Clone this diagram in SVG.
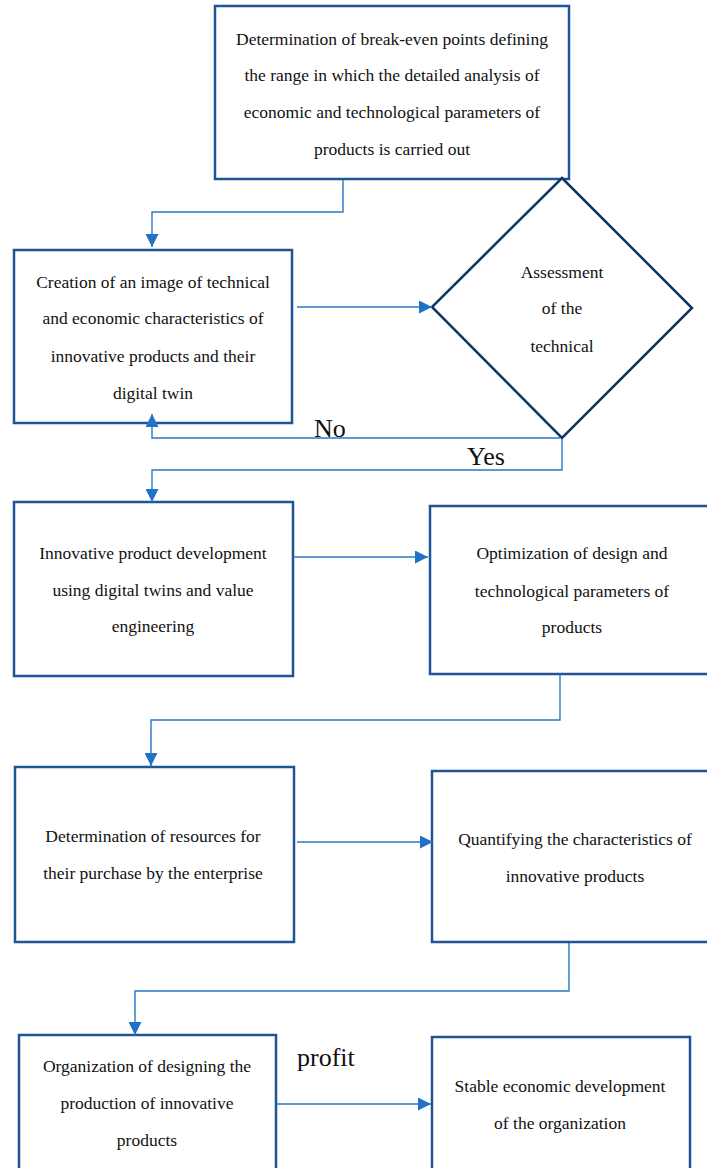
<svg xmlns="http://www.w3.org/2000/svg" width="707" height="1168" viewBox="0 0 707 1168">
<style>
.box{fill:#ffffff;stroke:#1f5497;stroke-width:2.5}
.dia{fill:#ffffff;stroke:#0f3563;stroke-width:2.5}
.con{fill:none;stroke:#2a78c8;stroke-width:1.4}
.t{font-family:"Liberation Serif","Times New Roman",serif;font-size:17.5px;fill:#111111;text-anchor:middle}
.lbl{font-family:"Liberation Serif","Times New Roman",serif;font-size:26px;fill:#111111}
</style>
<defs>
<marker id="ahb" viewBox="0 0 10 10" refX="10" refY="5" markerWidth="13" markerHeight="13" markerUnits="userSpaceOnUse" orient="auto">
<path d="M0,0 L10,5 L0,10 z" fill="#1f72c6"/>
</marker>
</defs>
<rect width="707" height="1168" fill="#ffffff"/>

<g id="n1">
<rect class="box" x="215" y="6" width="354" height="173"/>
<text class="t" x="392" y="45">Determination of break-even points defining</text>
<text class="t" x="392" y="81">the range in which the detailed analysis of</text>
<text class="t" x="392" y="118">economic and technological parameters of</text>
<text class="t" x="392" y="155">products is carried out</text>
</g>

<g id="n2">
<rect class="box" x="14" y="250" width="278" height="173"/>
<text class="t" x="153" y="288">Creation of an image of technical</text>
<text class="t" x="153" y="324">and economic characteristics of</text>
<text class="t" x="153" y="362">innovative products and their</text>
<text class="t" x="153" y="399">digital twin</text>
</g>

<g id="n3">
<path class="dia" d="M562,178 L692,308 L562,438 L432,307 Z"/>
<text class="t" x="562" y="278">Assessment</text>
<text class="t" x="562" y="314">of the</text>
<text class="t" x="562" y="352">technical</text>
</g>

<g id="n4">
<rect class="box" x="14" y="502" width="279" height="174"/>
<text class="t" x="153" y="559">Innovative product development</text>
<text class="t" x="153" y="596">using digital twins and value</text>
<text class="t" x="153" y="632">engineering</text>
</g>

<g id="n5">
<rect class="box" x="430" y="506" width="290" height="168"/>
<text class="t" x="572" y="559">Optimization of design and</text>
<text class="t" x="572" y="597">technological parameters of</text>
<text class="t" x="572" y="633">products</text>
</g>

<g id="n6">
<rect class="box" x="15" y="767" width="279" height="175"/>
<text class="t" x="153" y="842">Determination of resources for</text>
<text class="t" x="153" y="879">their purchase by the enterprise</text>
</g>

<g id="n7">
<rect class="box" x="432" y="771" width="290" height="171"/>
<text class="t" x="575" y="845">Quantifying the characteristics of</text>
<text class="t" x="575" y="882">innovative products</text>
</g>

<g id="n8">
<rect class="box" x="19" y="1035" width="257" height="150"/>
<text class="t" x="147" y="1072">Organization of designing the</text>
<text class="t" x="147" y="1109">production of innovative</text>
<text class="t" x="147" y="1146">products</text>
</g>

<g id="n9">
<rect class="box" x="432" y="1037" width="258" height="150"/>
<text class="t" x="560" y="1092">Stable economic development</text>
<text class="t" x="560" y="1129">of the organization</text>
</g>

<g id="connectors">
<path class="con" d="M343,180 V212 H152 V247" marker-end="url(#ahb)"/>
<path class="con" d="M297,307 H432" marker-end="url(#ahb)"/>
<path class="con" d="M560,438 H152 V414" marker-end="url(#ahb)"/>
<path class="con" d="M562,439 V470 H152 V502" marker-end="url(#ahb)"/>
<path class="con" d="M293,557 H428" marker-end="url(#ahb)"/>
<path class="con" d="M560,675 V720 H151 V766" marker-end="url(#ahb)"/>
<path class="con" d="M297,842 H433" marker-end="url(#ahb)"/>
<path class="con" d="M569,943 V991 H135 V1035" marker-end="url(#ahb)"/>
<path class="con" d="M277,1104 H431" marker-end="url(#ahb)"/>
</g>

<g id="labels">
<text class="lbl" x="314" y="437">No</text>
<text class="lbl" x="467" y="465">Yes</text>
<text class="lbl" x="297" y="1066">profit</text>
</g>
</svg>
